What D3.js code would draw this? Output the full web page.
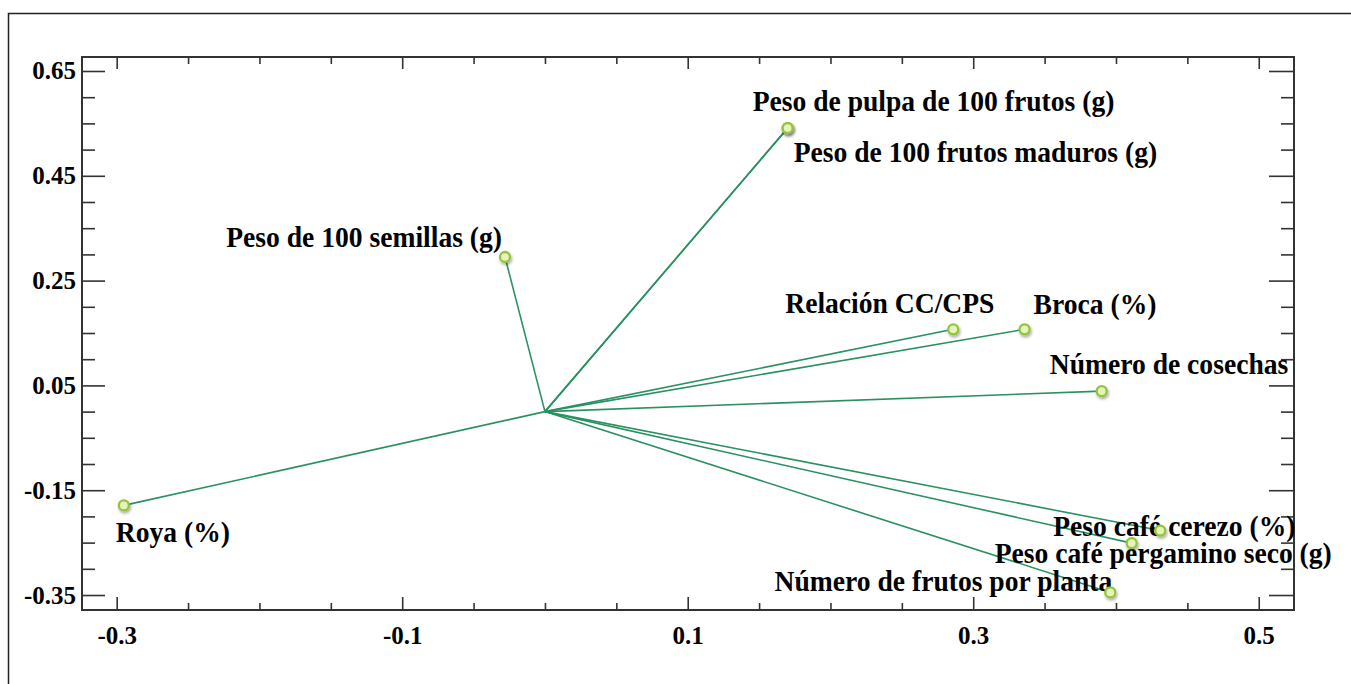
<!DOCTYPE html>
<html>
<head>
<meta charset="utf-8">
<script src="https://cdn.jsdelivr.net/npm/d3@7"></script>
<style>
  body { margin: 0; background: #fff; }
  svg { display: block; }
  .tick text { font-family: "Liberation Serif", "Times New Roman", serif; font-weight: bold; font-size: 25px; fill: #000; }
  .lbl { font-family: "Liberation Serif", "Times New Roman", serif; font-weight: bold; font-size: 27.6px; fill: #000; }
</style>
</head>
<body>
<svg id="chart" width="1351" height="684"></svg>
<script>
// variable names (biplot vectors) and their loadings on the two axes
var variables = [
  "Peso de pulpa de 100 frutos (g)",
  "Peso de 100 frutos maduros (g)",
  "Peso de 100 semillas (g)",
  "Relación CC/CPS",
  "Broca (%)",
  "Número de cosechas",
  "Roya (%)",
  "Peso café cerezo (%)",
  "Peso café pergamino seco (g)",
  "Número de frutos por planta"
]
var axis1 = [0.170, 0.170, -0.028, 0.286, 0.336, 0.390, -0.295, 0.431, 0.411, 0.396]
var axis2 = [0.541, 0.541, 0.295, 0.157, 0.157, 0.039, -0.179, -0.227, -0.251, -0.345]

// tick values
var xMajor = [-0.3, -0.1, 0.1, 0.3, 0.5]
var yMajor = [0.65, 0.45, 0.25, 0.05, -0.15, -0.35]

// label placement (px from point), just layout
var labelPos = [
  {dx: -35, dy: -17, anchor: "start"},
  {dx: 6, dy: 34, anchor: "start"},
  {dx: -3, dy: -10, anchor: "end"},
  {dx: -168, dy: -16, anchor: "start"},
  {dx: 9, dy: -15, anchor: "start"},
  {dx: -52, dy: -17, anchor: "start"},
  {dx: -8, dy: 37, anchor: "start"},
  {dx: -107, dy: 5, anchor: "start"},
  {dx: -137, dy: 20, anchor: "start"},
  {dx: 2, dy: -1, anchor: "end"}
]

var svg = d3.select("#chart")

var plotLeft = 82, plotTop = 57, plotRight = 1294, plotBottom = 610

var x = d3.scaleLinear().domain([-0.3243, 0.5247]).range([plotLeft, plotRight])
var y = d3.scaleLinear().domain([-0.3786, 0.6767]).range([plotBottom, plotTop])

// minor ticks every 0.05
var xMinor = d3.range(-0.3, 0.5001, 0.05).filter(function(v) {
  return !xMajor.some(function(m) { return Math.abs(m - v) < 1e-6 })
})
var yMinor = d3.range(-0.35, 0.6501, 0.05).filter(function(v) {
  return !yMajor.some(function(m) { return Math.abs(m - v) < 1e-6 })
})

// outer frame of the figure
svg.append("rect")
  .attr("x", 8.5).attr("y", 13.5)
  .attr("width", 1400).attr("height", 800)
  .style("fill", "none").style("stroke", "#222").style("stroke-width", 1.5)

function styleAxis(g) {
  g.select(".domain").remove()
  g.selectAll(".tick line").style("stroke", "#333").style("stroke-width", 1.6)
}

// left axis
svg.append("g").attr("transform", "translate(" + plotLeft + ",0)")
  .call(d3.axisLeft(y).tickValues(yMajor).tickSize(-23).tickPadding(6).tickFormat(d3.format(".2f")))
  .call(styleAxis)
svg.append("g").attr("transform", "translate(" + plotLeft + ",0)")
  .call(d3.axisLeft(y).tickValues(yMinor).tickSize(-13).tickFormat(""))
  .call(styleAxis)

// right axis
svg.append("g").attr("transform", "translate(" + plotRight + ",0)")
  .call(d3.axisRight(y).tickValues(yMajor).tickSize(-25).tickFormat(""))
  .call(styleAxis)
svg.append("g").attr("transform", "translate(" + plotRight + ",0)")
  .call(d3.axisRight(y).tickValues(yMinor).tickSize(-13).tickFormat(""))
  .call(styleAxis)

// bottom axis
svg.append("g").attr("transform", "translate(0," + plotBottom + ")")
  .call(d3.axisBottom(x).tickValues(xMajor).tickSize(-13).tickPadding(16).tickFormat(d3.format(".1f")))
  .call(styleAxis)
svg.append("g").attr("transform", "translate(0," + plotBottom + ")")
  .call(d3.axisBottom(x).tickValues(xMinor).tickSize(-7).tickFormat(""))
  .call(styleAxis)

// top axis
svg.append("g").attr("transform", "translate(0," + plotTop + ")")
  .call(d3.axisTop(x).tickValues(xMajor).tickSize(-12).tickFormat(""))
  .call(styleAxis)
svg.append("g").attr("transform", "translate(0," + plotTop + ")")
  .call(d3.axisTop(x).tickValues(xMinor).tickSize(-7).tickFormat(""))
  .call(styleAxis)

// hyphen as minus sign like the original
svg.selectAll(".tick text").text(function() { return this.textContent.replace("−", "-") })

// plot border
svg.append("rect")
  .attr("x", plotLeft).attr("y", plotTop)
  .attr("width", plotRight - plotLeft).attr("height", plotBottom - plotTop)
  .style("fill", "none").style("stroke", "#333").style("stroke-width", 2)

// shadow for the markers
var defs = svg.append("defs")
var filt = defs.append("filter").attr("id", "shadow").attr("x", "-100%").attr("y", "-100%").attr("width", "300%").attr("height", "300%")
filt.append("feDropShadow").attr("dx", 1).attr("dy", 2).attr("stdDeviation", 1.6).attr("flood-color", "#000").attr("flood-opacity", 0.35)

var idx = d3.range(variables.length)

// vectors from origin
svg.append("g").selectAll("line")
  .data(idx)
  .join("line")
  .attr("x1", x(0)).attr("y1", y(0))
  .attr("x2", function(i) { return x(axis1[i]) })
  .attr("y2", function(i) { return y(axis2[i]) })
  .style("stroke", "#2a9160")
  .style("stroke-width", 1.6)

// labels
svg.append("g").selectAll("text")
  .data(idx)
  .join("text")
  .attr("class", "lbl")
  .attr("transform", function(i) {
    return "translate(" + (x(axis1[i]) + labelPos[i].dx) + "," + (y(axis2[i]) + labelPos[i].dy) + ") scale(1,1.1)"
  })
  .attr("text-anchor", function(i) { return labelPos[i].anchor })
  .text(function(i) { return variables[i] })

// end points
svg.append("g").selectAll("circle")
  .data(idx)
  .join("circle")
  .attr("cx", function(i) { return x(axis1[i]) })
  .attr("cy", function(i) { return y(axis2[i]) })
  .attr("r", 5)
  .style("fill", "#e6f4b8")
  .style("stroke", "#93c33f")
  .style("stroke-width", 2.3)
  .attr("filter", "url(#shadow)")
</script>
</body>
</html>
